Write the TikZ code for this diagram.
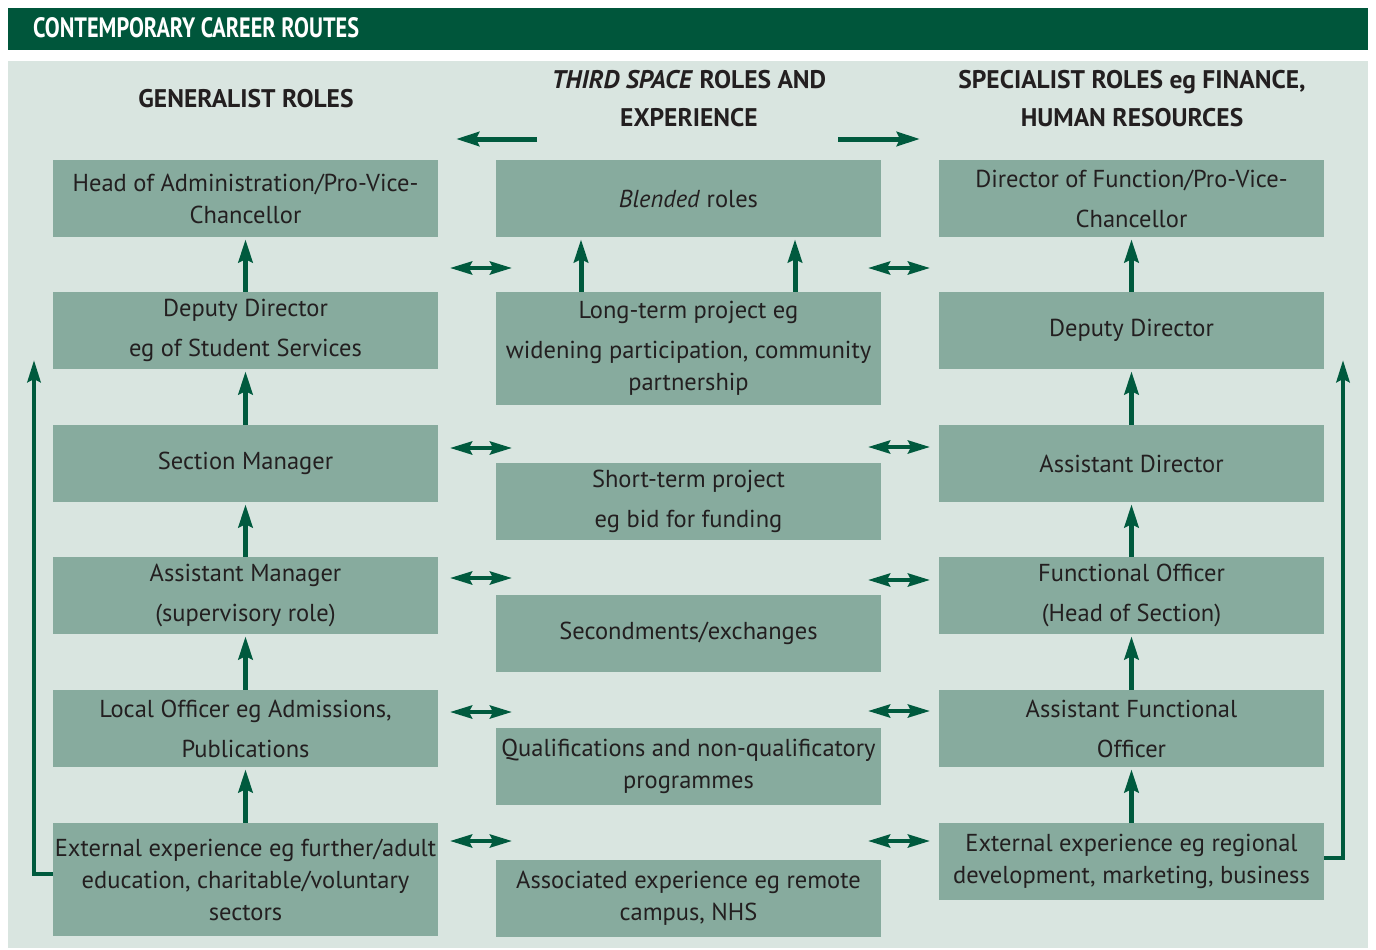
\documentclass[tikz,border=0pt]{standalone}
\usepackage{fontspec}
\setmainfont{PT Sans}
\newfontfamily\bandfont[FakeStretch=0.795]{PT Sans}
\usetikzlibrary{arrows.meta,calc}

\definecolor{bandgreen}{HTML}{00563B}
\definecolor{panel}{HTML}{D9E5E0}
\definecolor{boxgreen}{HTML}{87AB9E}
\definecolor{arrowgreen}{HTML}{005A3E}
\definecolor{ink}{HTML}{231F20}

\tikzset{
  role/.style={fill=boxgreen, minimum width=385pt, minimum height=77pt,
    inner sep=0pt, align=center, text=ink,
    font=\fontsize{24.5}{32}\selectfont},
  tallrole/.style={role, minimum height=113pt},
  colhead/.style={align=center, text=ink, font=\bfseries\fontsize{25.5}{38}\selectfont},
  uparrow/.style={draw=arrowgreen, line width=5pt,
    -{Stealth[length=23pt,width=14pt,inset=3pt]}, shorten >=2pt},
  flowarrow/.style={draw=arrowgreen, line width=5pt,
    -{Stealth[length=23pt,width=14pt,inset=3pt]}},
  linkarrow/.style={draw=arrowgreen, line width=4pt,
    {Stealth[length=22pt,width=13pt,inset=3pt]}-{Stealth[length=22pt,width=13pt,inset=3pt]}},
  looparrow/.style={draw=arrowgreen, line width=4.5pt,
    -{Stealth[length=22pt,width=13pt,inset=3pt]}},
}

\begin{document}
\begin{tikzpicture}[x=1pt,y=-1pt]
\useasboundingbox (0,0) rectangle (1376,950);
\fill[white] (0,0) rectangle (1376,950);

% title band and panel
\fill[bandgreen] (8,8) rectangle (1368,50);
\node[anchor=base west, inner sep=0pt, text=white,
  font=\bandfont\bfseries\fontsize{28}{28}\selectfont] (title) at (33,38)
  {CONTEMPORARY CAREER ROUTES};
\fill[panel] (8,61) rectangle (1368,948);

% column headings
\node[colhead] (hgen) at (246,99) {GENERALIST ROLES};
\node[colhead] (hmid) at (689,99) {\textit{THIRD SPACE} ROLES AND\\EXPERIENCE};
\node[colhead] (hspec) at (1132,99) {SPECIALIST ROLES eg FINANCE,\\HUMAN RESOURCES};

% generalist column
\node[role] (l1) at (245.5,198.5) {Head of Administration/Pro-Vice-\\Chancellor};
\node[role] (l2) at (245.5,330.5) {Deputy Director\\[8pt]eg of Student Services};
\node[role] (l3) at (245.5,463.5) {Section Manager};
\node[role] (l4) at (245.5,595.5) {Assistant Manager\\[8pt](supervisory role)};
\node[role] (l5) at (245.5,728.5) {Local Officer eg Admissions,\\[8pt]Publications};
\node[tallrole] (l6) at (245.5,879.5) {External experience eg further/adult\\education, charitable/voluntary\\sectors};

% third space column
\node[role] (m1) at (688.5,198.5) {\textit{Blended} roles};
\node[tallrole] (m2) at (688.5,348.5) {Long-term project eg\\[8pt]widening participation, community\\partnership};
\node[role] (m3) at (688.5,501.5) {Short-term project\\[8pt]eg bid for funding};
\node[role] (m4) at (688.5,633.5) {Secondments/exchanges};
\node[role] (m5) at (688.5,766.5) {Qualifications and non-qualificatory\\programmes};
\node[role] (m6) at (688.5,898.5) {Associated experience eg remote\\campus, NHS};

% specialist column
\node[role] (r1) at (1131.5,198.5) {Director of Function/Pro-Vice-\\[8pt]Chancellor};
\node[role] (r2) at (1131.5,330.5) {Deputy Director};
\node[role] (r3) at (1131.5,463.5) {Assistant Director};
\node[role] (r4) at (1131.5,595.5) {Functional Officer\\[8pt](Head of Section)};
\node[role] (r5) at (1131.5,728.5) {Assistant Functional\\[8pt]Officer};
\node[role] (r6) at (1131.5,861.5) {External experience eg regional\\development, marketing, business};

% progression within columns
\foreach \a/\b in {l2/l1,l3/l2,l4/l3,l5/l4,l6/l5,r2/r1,r3/r2,r4/r3,r5/r4,r6/r5}
  \draw[uparrow] (\a.north) -- (\b.south);
\draw[uparrow] ([xshift=-107.5pt]m2.north) -- ([xshift=-107.5pt]m1.south);
\draw[uparrow] ([xshift=106.5pt]m2.north) -- ([xshift=106.5pt]m1.south);

% arrows out of the third space
\coordinate (tl0) at (537,139);
\coordinate (tl1) at (456,139);
\coordinate (tr0) at (838,139);
\coordinate (tr1) at (920,139);
\draw[flowarrow] (tl0) -- (tl1);
\draw[flowarrow] (tr0) -- (tr1);

% two-way links between columns
\foreach \n/\ly/\ry in {1/268/268, 2/448/447, 3/578/580, 4/712/711, 5/841/841} {
  \coordinate (la\n) at (450,\ly);
  \coordinate (lb\n) at (512,\ly);
  \coordinate (ra\n) at (868,\ry);
  \coordinate (rb\n) at (930,\ry);
  \draw[linkarrow] (la\n) -- (lb\n);
  \draw[linkarrow] (ra\n) -- (rb\n);
}

% routes from external experience
\coordinate (ltip) at (34,360);
\coordinate (rtip) at (1343,360);
\draw[looparrow] ([yshift=5.5pt]l6.west) -| (ltip);
\draw[looparrow] ([yshift=3.5pt]r6.east) -| (rtip);
\end{tikzpicture}
\end{document}
